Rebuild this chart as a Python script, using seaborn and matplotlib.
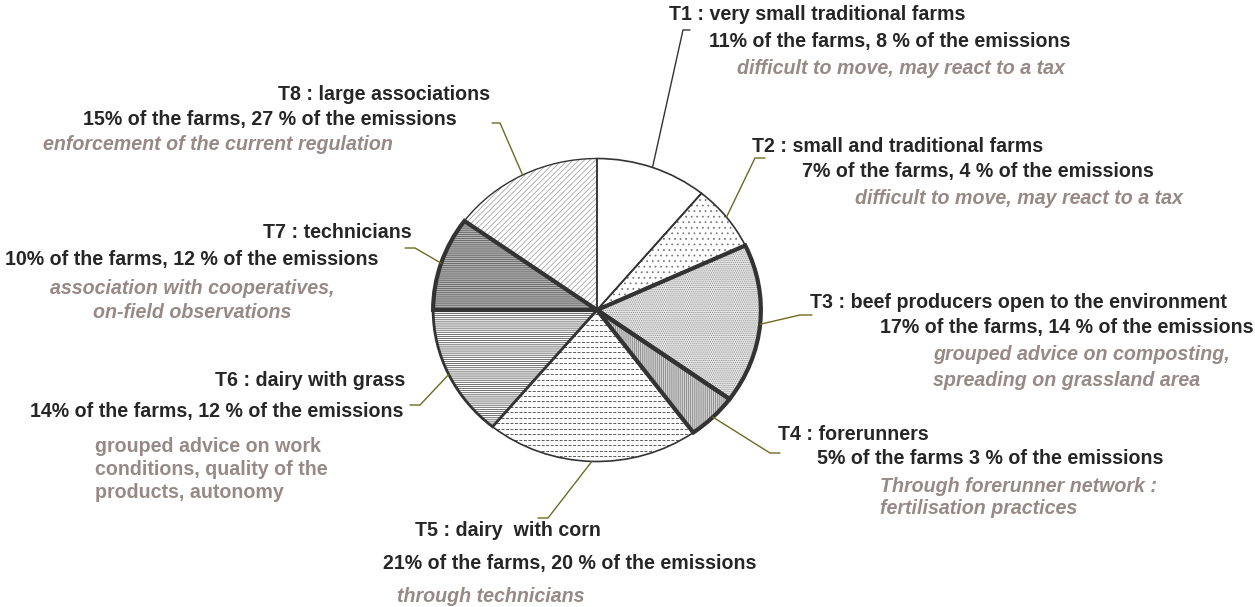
import numpy as np
import matplotlib
matplotlib.use("Agg")
import matplotlib.pyplot as plt
import seaborn as sns

# farm types, share of farms (pie size) and share of emissions
types = ["T1", "T2", "T3", "T4", "T5", "T6", "T7", "T8"]
names = ["very small traditional farms", "small and traditional farms",
         "beef producers open to the environment", "forerunners",
         "dairy  with corn", "dairy with grass", "technicians",
         "large associations"]
farm_share = [11, 7, 17, 5, 21, 14, 10, 15]
emission_share = [8, 4, 14, 3, 20, 12, 12, 27]
share_sep = [", ", ", ", ", ", " ", ", ", ", ", ", ", ", "]
advice = [
    ["difficult to move, may react to a tax"],
    ["difficult to move, may react to a tax"],
    ["grouped advice on composting,", "spreading on grassland area"],
    ["Through forerunner network :", "fertilisation practices"],
    ["through technicians"],
    ["grouped advice on work", "conditions, quality of the", "products, autonomy"],
    ["association with cooperatives,", "on-field observations"],
    ["enforcement of the current regulation"],
]

sns.set_theme(style="white")
plt.rcParams["font.family"] = ["Liberation Sans", "DejaVu Sans"]
plt.rcParams["hatch.linewidth"] = 0.55

W, H = 1255, 607
fig = plt.figure(figsize=(W / 100, H / 100), dpi=100)

# pie is drawn slightly flattened, as in the original slide
cx, cy, rx, ry = 597, 310, 165.5, 153
ax = fig.add_axes([(cx - rx) / W, (H - cy - ry) / H, 2 * rx / W, 2 * ry / H])

fills = ["white", "white", "#e6e6e6", "#d2d2d2", "white", "white", "#b4b4b4", "white"]
hatches = [None, "...", "........", "||||||||", None, "--------", "--------", "//////"]
hatch_cols = ["#444", "#777", "#8c8c8c", "#808080", "#6a6a6a", "#4a4a4a", "#5a5a5a", "#a0a0a0"]
edge_w = [1.2, 1.2, 3.0, 3.0, 1.2, 2.0, 3.0, 1.0]

wedges, _ = ax.pie(farm_share, startangle=90, counterclock=False, radius=1,
                   colors=fills, wedgeprops=dict(linewidth=0))
for w, h, hc in zip(wedges, hatches, hatch_cols):
    if h:
        w.set_hatch(h)
        w.set_edgecolor(hc)

# T5 is filled with rows of short dashes
for yy in np.arange(-1.0, 1.0, 0.036):
    ln, = ax.plot([-1.05, 1.05], [yy, yy], color="#5a5a5a", lw=0.7,
                  dashes=(3, 1.6), zorder=1.5)
    ln.set_clip_path(wedges[4])

outline, _ = ax.pie(farm_share, startangle=90, counterclock=False, radius=1,
                    wedgeprops=dict(fill=False, edgecolor="#333333"))
for w, lw in zip(outline, edge_w):
    w.set_linewidth(lw)
    w.set_zorder(3 if lw > 2 else 2)
    w.set_joinstyle("miter")

ax.set_aspect("auto")
ax.set_xlim(-1.01, 1.01)
ax.set_ylim(-1.01, 1.01)
ax.axis("off")

# overlay in pixel coordinates for labels and leader lines
ov = fig.add_axes([0, 0, 1, 1])
ov.set_xlim(0, W)
ov.set_ylim(H, 0)
ov.axis("off")

dark = "#262626"
grey = "#978a86"
olive = "#6f6a22"
fs = 14.1

title_pos = [(669, 14), (752, 146), (810, 302), (778, 434),
             (415, 531), (215, 381), (263, 232), (278, 95)]
share_pos = [(709, 41), (802, 172), (880, 328), (817, 459),
             (383, 564), (30, 412), (5, 259), (83, 119)]
advice_pos = [(737, 68), (855, 198), (933, 355), (880, 486),
              (397, 597), (95, 446), (192, 289), (43, 145)]
advice_step = [0, 0, 25, 23, 0, 23.5, 23, 0]
elbows = [((683, 30), (690, 30)), ((755, 158), (765, 158)),
          ((800, 315), (812, 315)), ((770, 453), (780, 453)),
          ((548, 518), (538, 518)), ((420, 405), (410, 405)),
          ((415, 248), (405, 248)), ((500, 123), (492, 123))]

for i, t in enumerate(types):
    ov.text(*title_pos[i], f"{t} : {names[i]}", ha="left", va="center",
            fontsize=fs, fontweight="bold", color=dark)
    ov.text(*share_pos[i],
            f"{farm_share[i]}% of the farms{share_sep[i]}{emission_share[i]} % of the emissions",
            ha="left", va="center", fontsize=fs, fontweight="bold", color=dark)
    ax0, ay0 = advice_pos[i]
    for j, line in enumerate(advice[i]):
        ov.text(ax0, ay0 + j * advice_step[i], line,
                ha="center" if t == "T7" else "left", va="center",
                fontsize=fs, fontweight="bold", color=grey,
                style="normal" if t == "T6" else "italic")

    # leader line from the middle of the wedge rim
    w = wedges[i]
    mid = np.deg2rad((w.theta1 + w.theta2) / 2)
    px, py = ax.transData.transform((np.cos(mid), np.sin(mid)))
    py = H - py
    (ex, ey), (fx, fy) = elbows[i]
    ov.plot([px, ex, fx], [py, ey, fy], color="#333333" if t == "T1" else olive,
            lw=1.0, solid_joinstyle="miter")

fig.savefig("out.png", dpi=100, facecolor="white")
